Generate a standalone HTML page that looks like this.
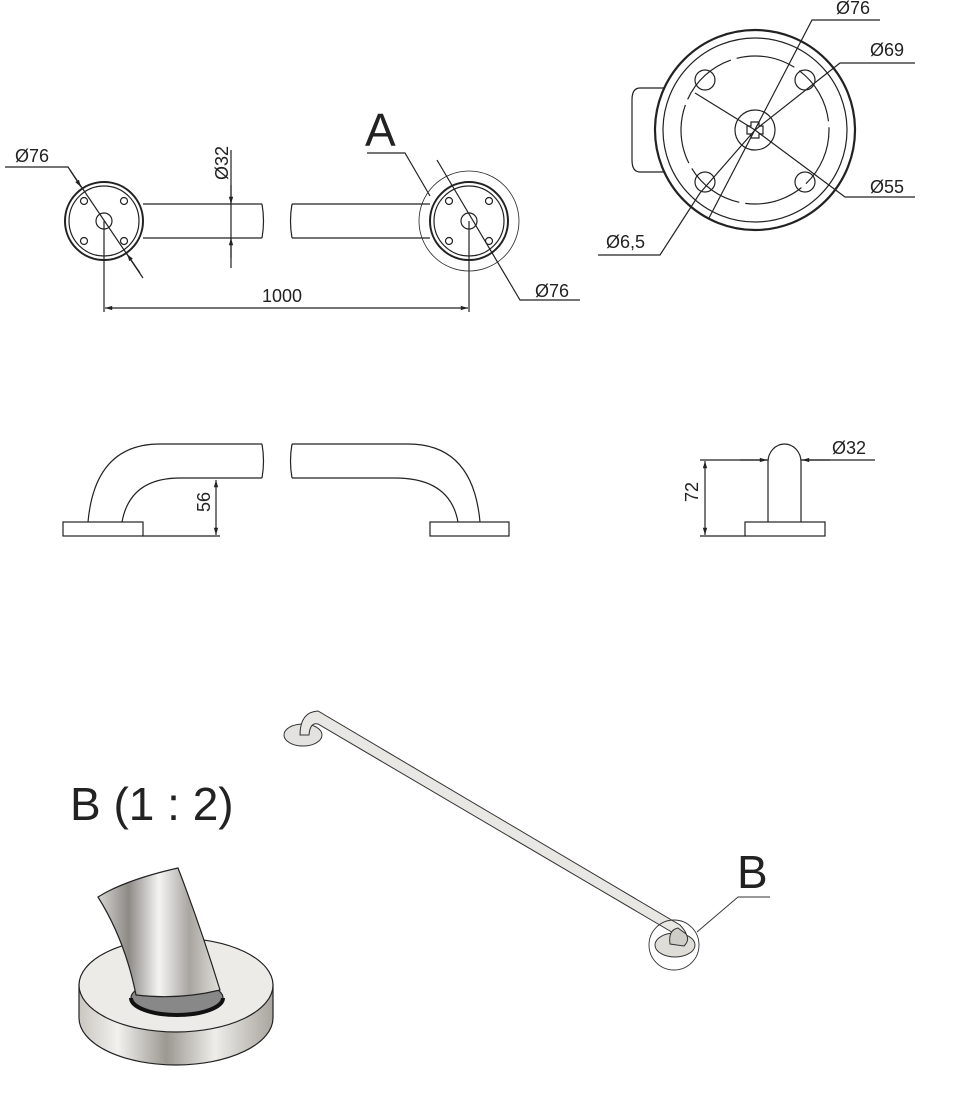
<!DOCTYPE html>
<html><head><meta charset="utf-8"><style>
html,body{margin:0;padding:0;background:#fff;}
svg{display:block;}
text{font-family:"Liberation Sans",sans-serif;fill:#222;}
.t{font-size:18px;}
</style></head><body>
<svg width="953" height="1114" viewBox="0 0 953 1114" xmlns="http://www.w3.org/2000/svg">
<defs>
<marker id="ar" viewBox="0 0 10 10" refX="10" refY="5" markerWidth="9" markerHeight="6" orient="auto-start-reverse"><path d="M0,2 L10,5 L0,8 z" fill="#222"/></marker>
<linearGradient id="side" x1="0" x2="1"><stop offset="0" stop-color="#c9c6c0"/><stop offset="0.2" stop-color="#f2f1ee"/><stop offset="0.45" stop-color="#9c9892"/><stop offset="0.7" stop-color="#eeede9"/><stop offset="1" stop-color="#a9a59f"/></linearGradient>
<linearGradient id="pipe" x1="0" x2="1" y1="0" y2="0"><stop offset="0" stop-color="#d8d6d2"/><stop offset="0.25" stop-color="#8d8a86"/><stop offset="0.5" stop-color="#f4f4f2"/><stop offset="0.75" stop-color="#a8a5a0"/><stop offset="1" stop-color="#e2e0dc"/></linearGradient>
</defs>
<g fill="none" stroke="#222" stroke-width="1.2">
<circle cx="104" cy="221" r="39" stroke-width="2"/>
<circle cx="104" cy="221" r="35"/>
<circle cx="104" cy="221" r="8"/>
<circle cx="84" cy="201" r="3.5"/><circle cx="124" cy="201" r="3.5"/><circle cx="84" cy="241" r="3.5"/><circle cx="124" cy="241" r="3.5"/>
<path d="M143,204 H262 M143,238 H262 M262,204 q3,17 0,34"/>
<path d="M292,204 H430 M292,238 H430 M292,204 q-3,17 0,34"/>
<circle cx="469" cy="221" r="39" stroke-width="2"/>
<circle cx="469" cy="221" r="35"/>
<circle cx="469" cy="221" r="50" stroke-width="0.8"/>
<circle cx="469" cy="221" r="8"/>
<circle cx="449" cy="201" r="3.5"/><circle cx="489" cy="201" r="3.5"/><circle cx="449" cy="241" r="3.5"/><circle cx="489" cy="241" r="3.5"/>
<path d="M104,221 V312 M469,221 V312"/>
<line x1="105" y1="308" x2="468" y2="308" marker-start="url(#ar)" marker-end="url(#ar)"/>
<path d="M231,150 V268"/>
<line x1="231" y1="185" x2="231" y2="204" marker-end="url(#ar)"/>
<line x1="231" y1="258" x2="231" y2="238" marker-end="url(#ar)"/>
<path d="M5,167 H68 L143,278"/>
<line x1="70" y1="170" x2="81" y2="187" marker-end="url(#ar)"/>
<line x1="140" y1="273" x2="127" y2="254" marker-end="url(#ar)"/>
<path d="M437,160 L520,300 H580"/>
<path d="M367,153 H405 L430,196"/>
<path d="M665,88 H640 Q632,88 632,100 V160 Q632,172 640,172 H665"/>
<circle cx="755" cy="130" r="100" stroke-width="2.2"/>
<circle cx="755" cy="130" r="92"/>
<circle cx="755" cy="130" r="74" stroke-dasharray="60,6"/>
<circle cx="755" cy="130" r="20"/>
<path d="M751,122 h8 v4 h4 v8 h-4 v4 h-8 v-4 h-4 v-8 h4 z"/>
<circle cx="705" cy="80" r="10"/><circle cx="805" cy="80" r="10"/><circle cx="705" cy="182" r="10"/><circle cx="805" cy="182" r="10"/>
<path d="M709,218 L812,20 H880"/>
<path d="M755,130 L840,63 H915"/>
<path d="M755,130 L845,197 H915"/>
<path d="M755,130 L695,93"/>
<path d="M755,130 L700,193 L660,255 H598"/>
<rect x="63" y="522" width="80" height="14"/>
<path d="M88,522 Q95,444 160,444 H262 M122,522 Q130,478 180,478 H262 M262,444 q3,17 0,34"/>
<rect x="430" y="522" width="79" height="14"/>
<path d="M480,522 Q473,444 408,444 H292 M458,522 Q450,478 395,478 H292 M292,444 q-3,17 0,34"/>
<path d="M143,536 H220"/>
<line x1="216" y1="480" x2="216" y2="535" marker-start="url(#ar)" marker-end="url(#ar)"/>
<rect x="745" y="522" width="80" height="14"/>
<path d="M768,522 V462 A16.5,18 0 0 1 801,462 V522"/>
<path d="M700,460 H768 M801,460 H875 M700,536 H745"/>
<line x1="740" y1="460" x2="767" y2="460" marker-end="url(#ar)"/>
<line x1="830" y1="460" x2="802" y2="460" marker-end="url(#ar)"/>
<line x1="705" y1="461" x2="705" y2="535" marker-start="url(#ar)" marker-end="url(#ar)"/>
</g>
<g stroke="#333" stroke-width="1">
<ellipse cx="303" cy="735" rx="19" ry="11" fill="#e4e2de"/>
<path d="M300,735 Q300,712 318,711 L680,925 Q690,935 686,944 L677,945 Q678,936 670,931 L318,724 Q310,722 309,735 Z" fill="#e9e7e3"/>
<ellipse cx="675" cy="945" rx="20" ry="12" fill="#dfddd8"/>
<path d="M670,944 Q668,930 678,928 L686,934 Q690,940 684,946 Z" fill="#cfcdc8"/>
</g>
<g fill="none" stroke="#333" stroke-width="0.9">
<circle cx="674" cy="945" r="25"/>
<path d="M697,932 L738,897 H770"/>
</g>
<g stroke="#222" stroke-width="1.2">
<path d="M79,985 V1018 A97,47 0 0 0 273,1018 V985 Z" fill="url(#side)"/>
<ellipse cx="176" cy="985" rx="97" ry="47" fill="#ecebe8"/>
<ellipse cx="177" cy="998" rx="46" ry="17" fill="#888"/>
<path d="M98,897 Q125,880 178,868 Q200,925 220,990 Q180,1000 136,995 Q125,940 98,897 Z" fill="url(#pipe)"/>
<path d="M131,998 A46,17 0 0 0 223,998" fill="none" stroke="#111" stroke-width="4"/>
</g>
<text x="15" y="162" class="t">Ø76</text>
<text x="535" y="297" class="t">Ø76</text>
<text x="262" y="302" class="t" font-size="16">1000</text>
<text x="365" y="146" font-size="46">A</text>
<text transform="translate(228,180) rotate(-90)" class="t">Ø32</text>
<text x="836" y="14" class="t">Ø76</text>
<text x="870" y="56" class="t">Ø69</text>
<text x="870" y="193" class="t">Ø55</text>
<text x="606" y="248" class="t">Ø6,5</text>
<text transform="translate(210,512) rotate(-90)" class="t">56</text>
<text transform="translate(698,502) rotate(-90)" class="t">72</text>
<text x="832" y="454" class="t">Ø32</text>
<text x="737" y="888" font-size="46">B</text>
<text x="70" y="820" font-size="46">B (1 : 2)</text>
</svg>
</body></html>
